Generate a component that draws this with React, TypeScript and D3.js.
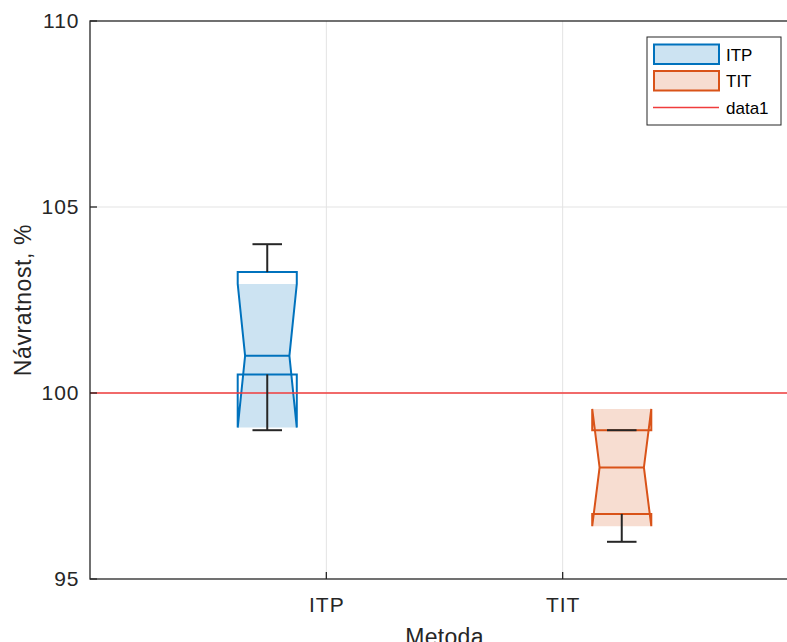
import * as d3 from 'd3';
import React from 'react';

// box statistics
const categories = ['ITP', 'TIT'];
const q1 = [100.5, 96.75];
const medians = [101, 98];
const q3 = [103.25, 99.0];
const whiskerLow = [99, 96];
const whiskerHigh = [104, 99];
const notchLow = [99.07, 96.42];
const notchHigh = [102.93, 99.57];
const refValue = 100;
const yTicks = [95, 100, 105, 110];
const legendLabels = ['ITP', 'TIT', 'data1'];

const strokes = ['#0072bd', '#d95319'];
const fills = ['#cce3f2', '#f7ddd1'];
const refColor = '#f03c3c';
const axisColor = '#262626';
const font = '"Liberation Sans", Arial, sans-serif';

const width = 787;
const height = 642;
const left = 90, right = 799, top = 21, bottom = 579;

export default function App() {
    const x = d3.scalePoint<string>().domain(categories).range([left, right]).padding(1);
    const y = d3.scaleLinear().domain([95, 110]).range([bottom, top]);
    const step = x.step();
    const bw = step / 4;
    const line = d3.line();

    const boxes = categories.map((c, i) => {
        const cx = (x(c) as number) + (i - 0.5) * step / 2;
        const L = cx - bw / 2, R = cx + bw / 2;
        const Ln = cx - bw * 0.375, Rn = cx + bw * 0.375;
        const outline = line([
            [L, y(q3[i])], [L, y(notchHigh[i])], [Ln, y(medians[i])], [L, y(notchLow[i])], [L, y(q1[i])],
            [R, y(q1[i])], [R, y(notchLow[i])], [Rn, y(medians[i])], [R, y(notchHigh[i])], [R, y(q3[i])],
        ]) + 'Z';
        const fill = line([
            [L, y(notchHigh[i])], [Ln, y(medians[i])], [L, y(notchLow[i])],
            [R, y(notchLow[i])], [Rn, y(medians[i])], [R, y(notchHigh[i])],
        ]) + 'Z';
        return { c, i, cx, Ln, Rn, outline, fill };
    });

    return (
        <div>
            <style>{`body{margin:0}`}</style>
            <svg width={width} height={height} style={{ display: 'block', background: '#fff' }} fontFamily={font}>
                {/* grid */}
                {categories.map(c => (
                    <line key={c} x1={x(c)} x2={x(c)} y1={top} y2={bottom} stroke="#e3e3e3" strokeWidth={1} />
                ))}
                {yTicks.slice(1, -1).map(t => (
                    <line key={t} x1={left} x2={right} y1={y(t)} y2={y(t)} stroke="#e3e3e3" strokeWidth={1} />
                ))}

                {/* boxes */}
                {boxes.map(b => (
                    <g key={b.c}>
                        <path d={b.fill} fill={fills[b.i]} stroke="none" />
                        <path d={b.outline} fill="none" stroke={strokes[b.i]} strokeWidth={2} strokeLinejoin="miter" />
                        <line x1={b.Ln} x2={b.Rn} y1={y(medians[b.i])} y2={y(medians[b.i])} stroke={strokes[b.i]} strokeWidth={2} />
                    </g>
                ))}

                {/* reference line */}
                <line x1={left} x2={right} y1={y(refValue)} y2={y(refValue)} stroke={refColor} strokeWidth={1.5} />

                {/* whiskers */}
                {boxes.map(b => (
                    <g key={b.c} stroke={axisColor} strokeWidth={2}>
                        <line x1={b.cx} x2={b.cx} y1={y(q3[b.i])} y2={y(whiskerHigh[b.i])} />
                        <line x1={b.cx} x2={b.cx} y1={y(q1[b.i])} y2={y(whiskerLow[b.i])} />
                        <line x1={b.cx - bw / 4} x2={b.cx + bw / 4} y1={y(whiskerHigh[b.i])} y2={y(whiskerHigh[b.i])} />
                        <line x1={b.cx - bw / 4} x2={b.cx + bw / 4} y1={y(whiskerLow[b.i])} y2={y(whiskerLow[b.i])} />
                    </g>
                ))}

                {/* axes */}
                <rect x={left} y={top} width={right - left} height={bottom - top} fill="none" stroke={axisColor} strokeWidth={1.3} />
                {yTicks.map(t => (
                    <g key={t}>
                        <line x1={left} x2={left + 7} y1={y(t)} y2={y(t)} stroke={axisColor} strokeWidth={1.3} />
                        <text x={79.5} y={y(t)} dy="0.35em" textAnchor="end" fontSize={21} letterSpacing={1} fill={axisColor}>{t}</text>
                    </g>
                ))}
                {categories.map(c => (
                    <g key={c}>
                        <line x1={x(c)} x2={x(c)} y1={bottom} y2={bottom - 7} stroke={axisColor} strokeWidth={1.3} />
                        <text x={(x(c) as number) + 0.5} y={611.5} textAnchor="middle" fontSize={21} letterSpacing={1} fill={axisColor}>{c}</text>
                    </g>
                ))}
                <text x={(left + right) / 2} y={645} textAnchor="middle" fontSize={23} letterSpacing={0.3} fill={axisColor}>Metoda</text>
                <text transform={`translate(31, ${(top + bottom) / 2}) rotate(-90)`} textAnchor="middle" fontSize={23} letterSpacing={0.6} fill={axisColor}>Návratnost, %</text>

                {/* legend */}
                <g transform="translate(647, 37)">
                    <rect x={0} y={0} width={134} height={88} fill="#fff" stroke={axisColor} strokeWidth={1} />
                    {legendLabels.map((l, i) => (
                        <g key={l} transform={`translate(0, ${i * 26.5})`}>
                            {i < 2 ? (
                                <rect x={7} y={7.5} width={65} height={19.5} fill={fills[i]} stroke={strokes[i]} strokeWidth={2} />
                            ) : (
                                <line x1={6} x2={72} y1={17.5} y2={17.5} stroke={refColor} strokeWidth={1.5} />
                            )}
                            <text x={79} y={23.5} fontSize={17} fill="#000">{l}</text>
                        </g>
                    ))}
                </g>
            </svg>
        </div>
    );
}
